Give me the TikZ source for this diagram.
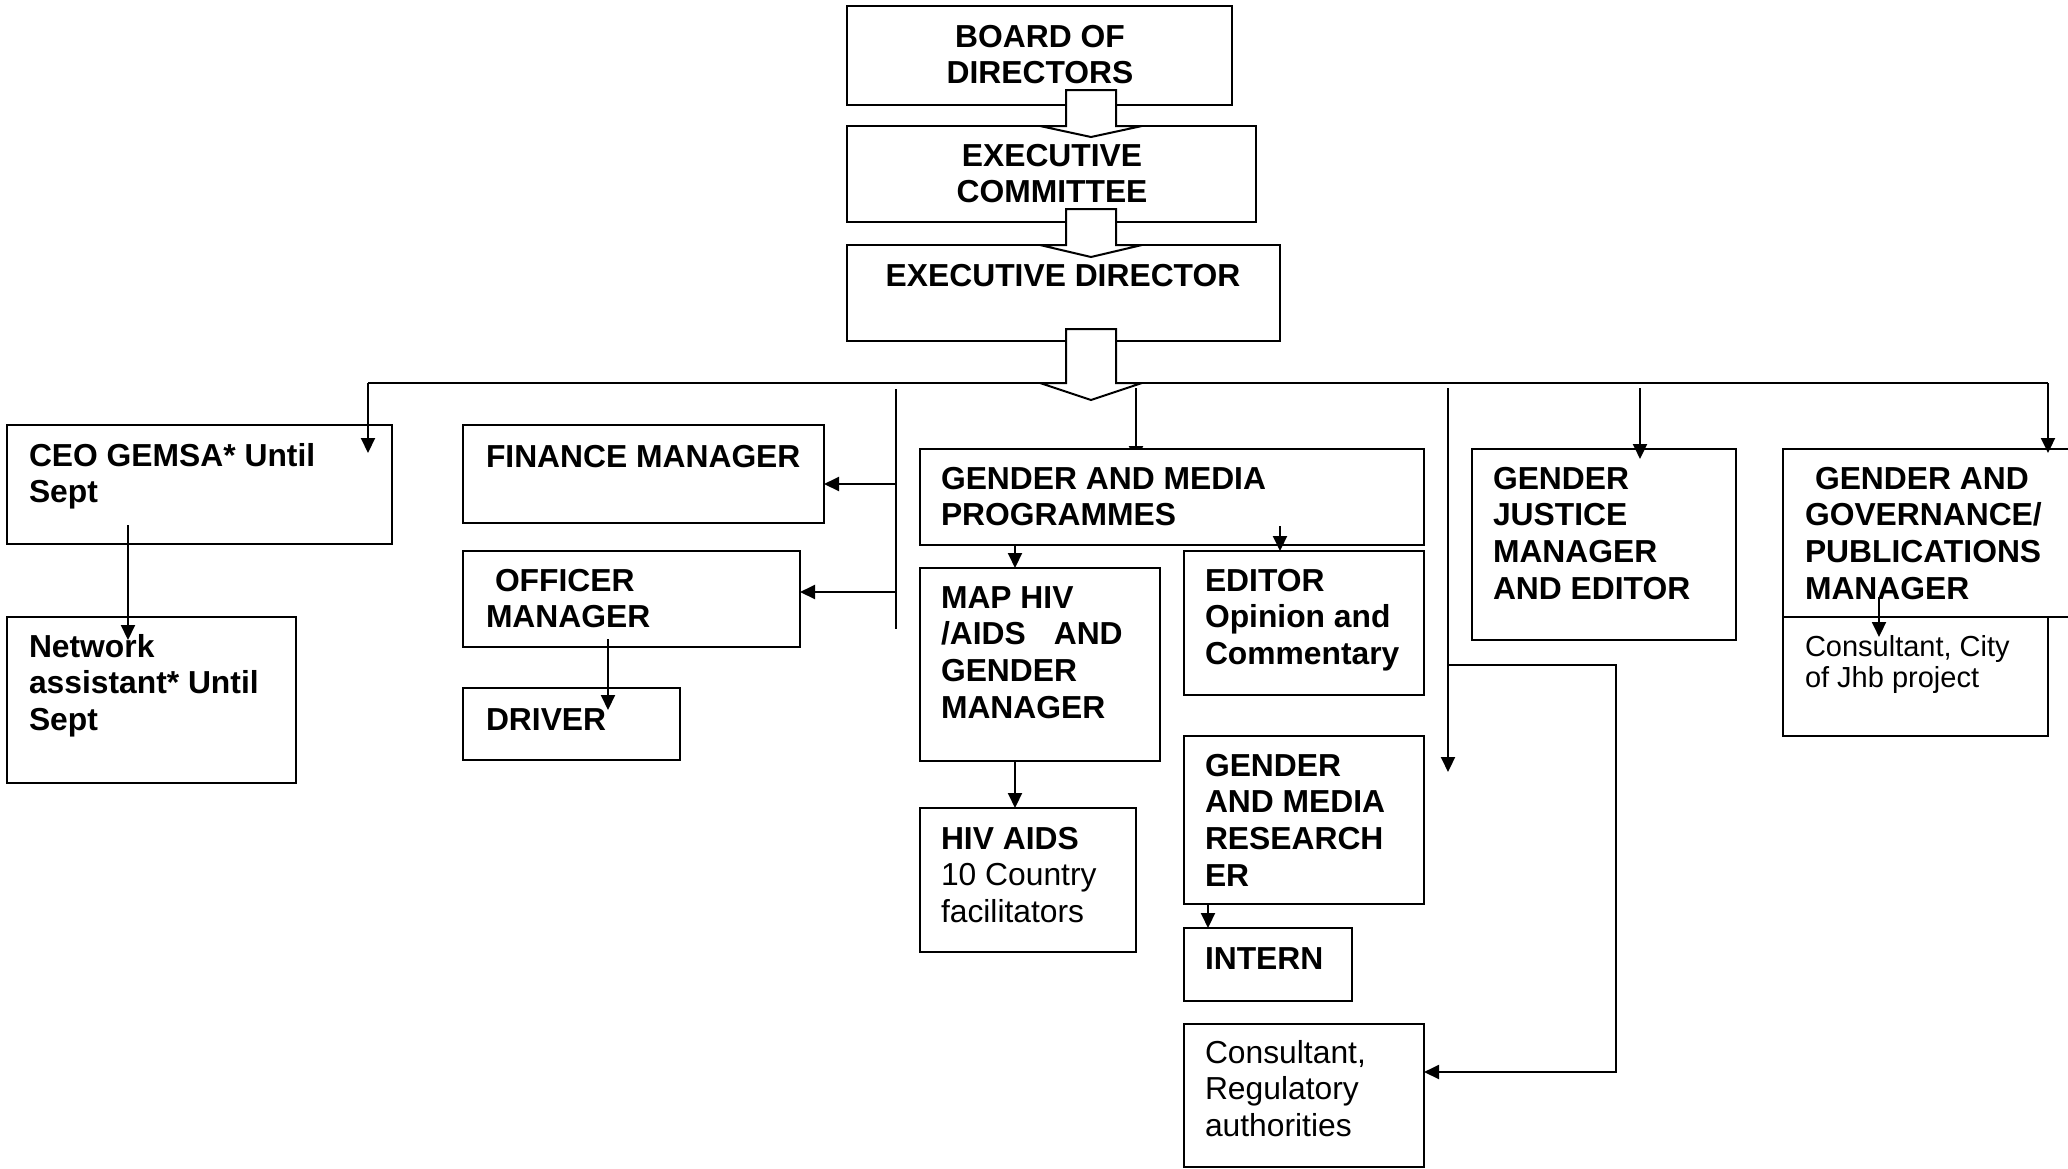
\documentclass[tikz,border=0pt]{standalone}
\usepackage{fontspec}
\setmainfont{Liberation Sans}
\usetikzlibrary{arrows.meta}
\pgfdeclarelayer{bg}
\pgfsetlayers{bg,main}
\begin{document}
\begin{tikzpicture}[x=1pt,y=-1pt,
  box/.style={draw,fill=white,line width=2pt,inner sep=0pt,outer sep=0pt,anchor=north west,rectangle},
  bt/.style={inner sep=0pt,outer sep=0pt,anchor=north west,align=left,font=\fontsize{31.8}{36.7}\selectfont\bfseries},
  btc/.style={bt,anchor=north,align=center},
  rt/.style={inner sep=0pt,outer sep=0pt,anchor=north west,align=left,font=\fontsize{31.8}{36.7}\selectfont},
  st/.style={inner sep=0pt,outer sep=0pt,anchor=north west,align=left,font=\fontsize{29}{31.8}\selectfont},
  ln/.style={draw,line width=2pt},
  arr/.style={ln,-{Triangle[length=15pt,width=14pt]}},
  blockarrow/.style={draw,fill=white,line width=2pt,line join=miter}
]
\clip (0,0) rectangle (2068,1168);
\useasboundingbox (0,0) rectangle (2068,1168);
\def\st{\rule{0pt}{25pt}}

% boxes
\node[box,minimum width=385pt,minimum height=99pt]  (board)    at (847,6)    {};
\node[box,minimum width=409pt,minimum height=96pt]  (excom)    at (847,126)  {};
\node[box,minimum width=433pt,minimum height=96pt]  (exdir)    at (847,245)  {};
\node[box,minimum width=385pt,minimum height=119pt] (ceo)      at (7,425)    {};
\node[box,minimum width=289pt,minimum height=166pt] (network)  at (7,617)    {};
\node[box,minimum width=361pt,minimum height=98pt]  (finance)  at (463,425)  {};
\node[box,minimum width=337pt,minimum height=96pt]  (officer)  at (463,551)  {};
\node[box,minimum width=217pt,minimum height=72pt]  (driver)   at (463,688)  {};
\node[box,minimum width=504pt,minimum height=96pt]  (gmp)      at (920,449)  {};
\node[box,minimum width=240pt,minimum height=193pt] (maphiv)   at (920,568)  {};
\node[box,minimum width=240pt,minimum height=144pt] (editor)   at (1184,551) {};
\node[box,minimum width=216pt,minimum height=144pt] (hivaids)  at (920,808)  {};
\node[box,minimum width=240pt,minimum height=168pt] (research) at (1184,736) {};
\node[box,minimum width=168pt,minimum height=73pt]  (intern)   at (1184,928) {};
\node[box,minimum width=240pt,minimum height=143pt] (consreg)  at (1184,1024){};
\node[box,minimum width=264pt,minimum height=191pt] (gj)       at (1472,449) {};
\node[box,minimum width=300pt,minimum height=168pt] (gov)      at (1783,449) {};
\node[box,minimum width=265pt,minimum height=119pt] (conscity) at (1783,617) {};

% texts
\node[btc] (tboard) at (1040,22)  {\st BOARD OF\\DIRECTORS};
\node[btc] (texcom) at (1052,141) {\st EXECUTIVE\\COMMITTEE};
\node[btc] (texdir) at (1063,261) {\st EXECUTIVE DIRECTOR};
\node[bt] (tceo) at (29,441) {\st CEO GEMSA* Until\\Sept};
\node[bt] (tnet) at (29,632) {\st Network\\assistant* Until\\Sept};
\node[bt] (tfin) at (486,442) {\st FINANCE MANAGER};
\node[bt] (toff) at (486,566) {\st\hspace{9pt}OFFICER\\MANAGER};
\node[bt] (tdrv) at (486,705) {\st DRIVER};
\node[bt] (tgmp) at (941,464) {\st GENDER AND MEDIA\\PROGRAMMES};
\node[bt] (tmap) at (941,583) {\st MAP HIV\\/AIDS\hspace{28pt}AND\\GENDER\\MANAGER};
\node[bt] (tedi) at (1205,566) {\st EDITOR\\Opinion and\\Commentary};
\node[rt] (thiv) at (941,824) {\st\textbf{HIV AIDS}\\10 Country\\facilitators};
\node[bt] (tres) at (1205,751) {\st GENDER\\AND MEDIA\\RESEARCH\\ER};
\node[bt] (tint) at (1205,944) {\st INTERN};
\node[rt] (tcre) at (1205,1038) {\st Consultant,\\Regulatory\\authorities};
\node[bt] (tgj) at (1493,464) {\st GENDER\\JUSTICE\\MANAGER\\AND EDITOR};
\node[bt] (tgov) at (1805,464) {\st\hspace{10pt}GENDER AND\\GOVERNANCE/\\PUBLICATIONS\\MANAGER};
\node[st] (tcci) at (1805,631) {\st Consultant, City\\of Jhb project};

% block arrows
\draw[blockarrow] (1066,90) -- (1116,90) -- (1116,126) -- (1142,126) -- (1091,137) -- (1040,126) -- (1066,126) -- cycle;
\draw[blockarrow] (1066,209) -- (1116,209) -- (1116,245) -- (1142,245) -- (1091,257) -- (1040,245) -- (1066,245) -- cycle;
\draw[blockarrow] (1066,329) -- (1116,329) -- (1116,383) -- (1142,383) -- (1091,400) -- (1040,383) -- (1066,383) -- cycle;

% connectors
\coordinate (hl) at (368,383);
\coordinate (hr) at (2048,383);
\coordinate (ceoIn) at (368,453);
\coordinate (govIn) at (2048,453);
\draw[ln] (hl) -- (1066,383);
\draw[ln] (1116,383) -- (hr);
\draw[arr] (hl) -- (ceoIn);
\draw[arr] (hr) -- (govIn);

\coordinate (ceoOut) at (128,525);
\coordinate (netIn) at (128,640);
\draw[arr] (ceoOut) -- (netIn);

\coordinate (v1t) at (896,389);
\coordinate (v1b) at (896,629);
\draw[ln] (v1t) -- (v1b);
\coordinate (fA) at (896,484);
\coordinate (oA) at (896,592);
\draw[arr] (fA) -- (fA -| finance.east);
\draw[arr] (oA) -- (oA -| officer.east);

\coordinate (offOut) at (608,639);
\coordinate (drvIn) at (608,710);
\draw[arr] (offOut) -- (drvIn);

\coordinate (gA) at (1136,388);
\begin{pgfonlayer}{bg}
\draw[arr] (gA) -- ([yshift=-12pt]gA |- gmp.north);
\end{pgfonlayer}
\coordinate (mA) at (1015,0);
\draw[arr] (mA |- gmp.south) -- (mA |- maphiv.north);
\draw[arr] (mA |- maphiv.south) -- (mA |- hivaids.north);
\coordinate (eA) at (1280,526);
\draw[arr] (eA) -- (eA |- editor.north);
\coordinate (rA) at (1208,0);
\draw[arr] (rA |- research.south) -- (rA |- intern.north);

\coordinate (v2t) at (1448,388);
\coordinate (v2b) at (1448,772);
\draw[arr] (v2t) -- (v2b);
\coordinate (br1) at (1448,665);
\coordinate (br2) at (1616,665);
\coordinate (br3) at (1616,1072);
\draw[arr] (br1) -- (br2) -- (br3) -- (br3 -| consreg.east);

\coordinate (jA) at (1640,388);
\coordinate (jB) at (1640,459);
\draw[arr] (jA) -- (jB);

\coordinate (cA) at (1879,597);
\coordinate (cB) at (1879,637);
\draw[arr] (cA) -- (cB);
\end{tikzpicture}
\end{document}
